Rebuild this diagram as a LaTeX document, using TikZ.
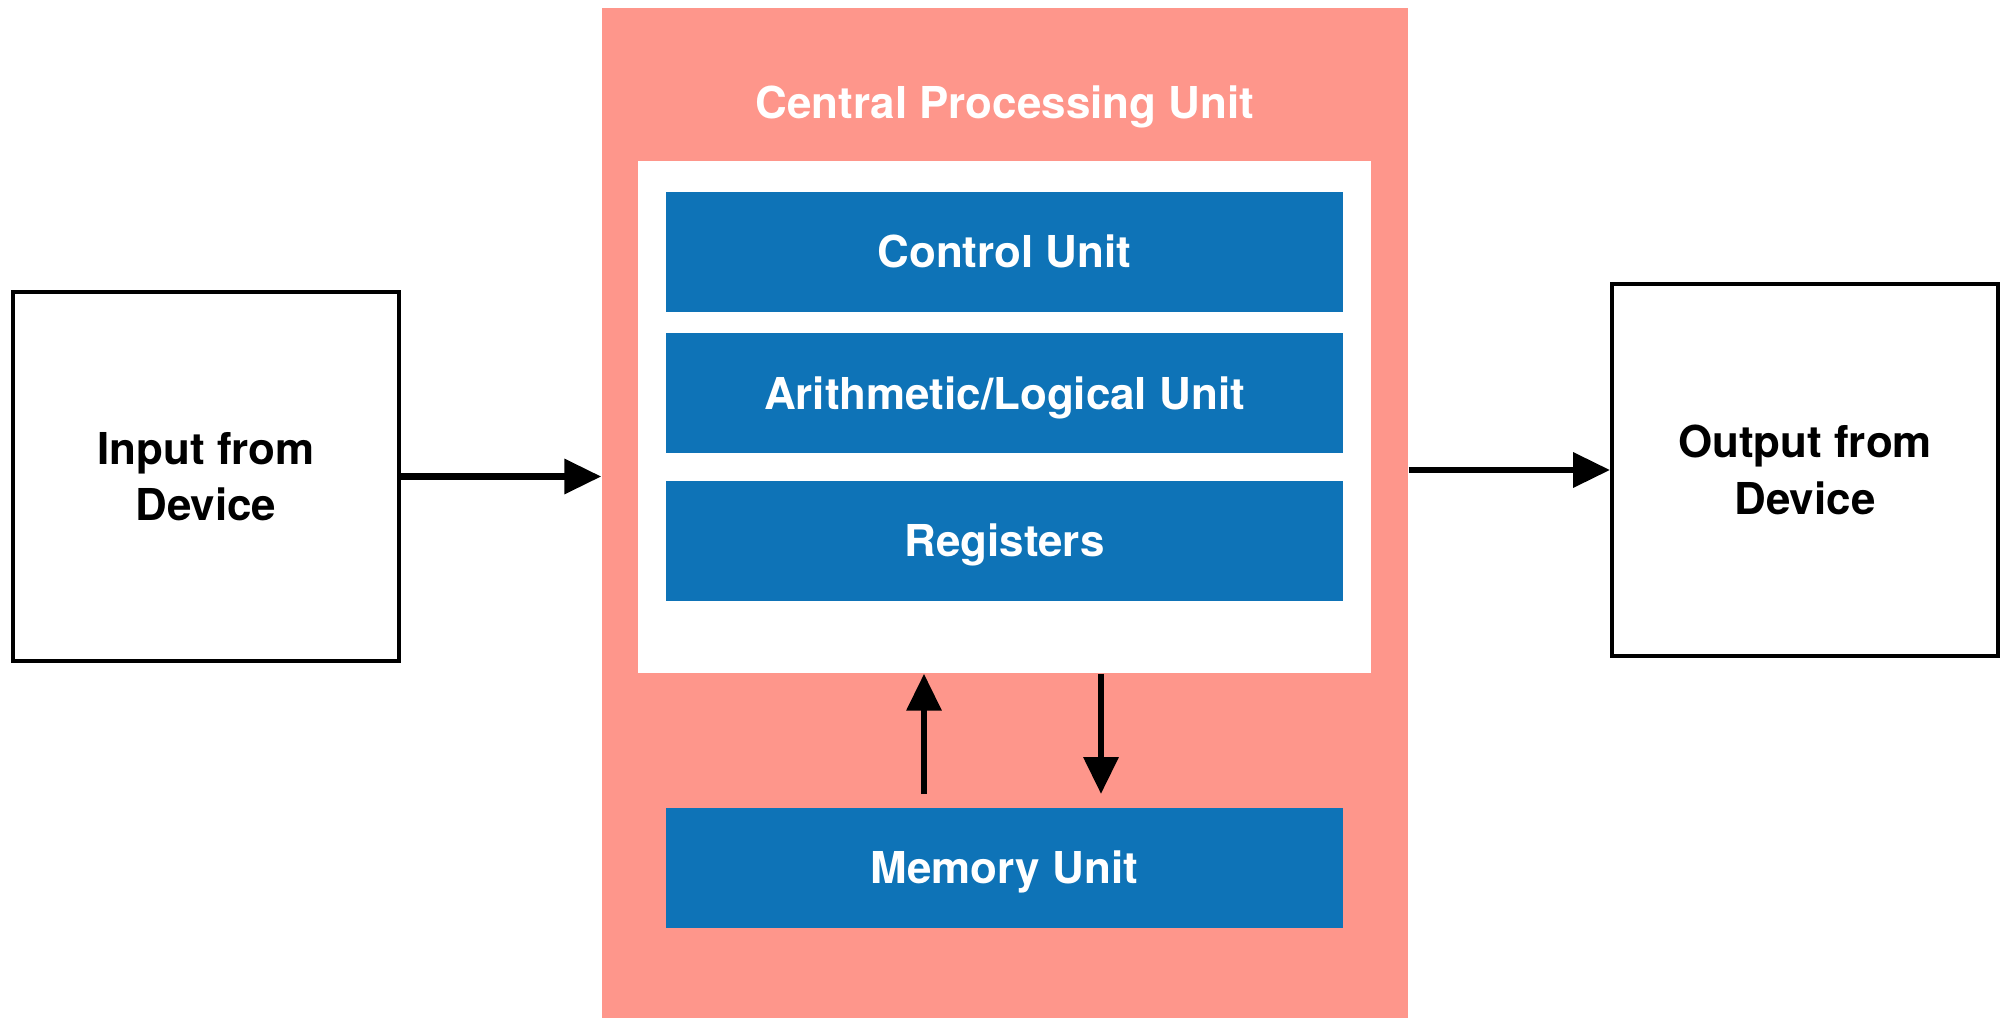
\documentclass[tikz,border=0pt]{standalone}
\usepackage{fontspec}
\setmainfont{TeX Gyre Heros}
\usetikzlibrary{positioning}
\usetikzlibrary{arrows.meta}

\definecolor{cpupink}{RGB}{254,150,139}
\definecolor{unitblue}{RGB}{14,115,183}

\begin{document}
\begin{tikzpicture}[
        every node/.style={font=\fontsize{12.5}{16}\selectfont\bfseries},
        unit/.style={fill=unitblue, text=white, minimum width=6.77cm, minimum height=1.2cm,
            inner sep=0pt, text height=0.9em, text depth=0pt},
        device/.style={draw, line width=1.1pt, minimum width=3.86cm, align=center, inner sep=0pt},
        flow/.style={-{Triangle[length=3.7mm, width=3.4mm]}, line width=1.9pt}
    ]
        \useasboundingbox (0,0) rectangle (20.06,10.18);

        % Central processing unit block
        \node[fill=cpupink, minimum width=8.06cm, minimum height=10.10cm, inner sep=0pt] (cpu) at (10.05, 5.05) {};
        \node[text=white, anchor=base] (title) at (10.05, 9.0) {Central Processing Unit};
        \node[fill=white, minimum width=7.33cm, minimum height=5.12cm, inner sep=0pt] (core) at (10.045, 6.01) {};

        % Units inside the core
        \node[unit] (ctrl) at (10.045, 7.66) {Control Unit};
        \node[unit, below=0.2cm of ctrl] (alu) {Arithmetic/Logical Unit};
        \node[unit, below=0.26cm of alu] (reg) {Registers};

        % Memory unit
        \node[unit] (mem) at (10.045, 1.505) {Memory Unit};

        % Arrows between core and memory
        \coordinate (upfoot) at (9.24, 2.24);
        \coordinate (downtip) at (11.01, 2.24);
        \draw[flow] (upfoot) -- (upfoot |- core.south);
        \draw[flow] (downtip |- core.south) -- (downtip);

        % Input and output devices
        \node[device, minimum height=3.69cm] (input) at (2.06, 5.415) {Input from\\Device};
        \node[device, minimum height=3.72cm] (output) at (18.05, 5.48) {Output from\\Device};

        \draw[flow] (input.east) -- (input.east -| cpu.west);
        \draw[flow] (output.west -| cpu.east) -- (output.west);

    \end{tikzpicture}
\end{document}
